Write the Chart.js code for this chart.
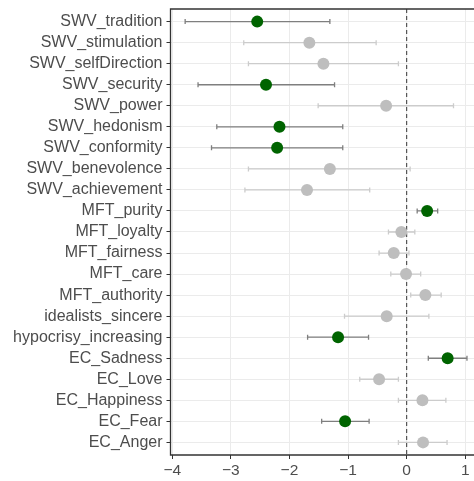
<!DOCTYPE html>
<html>
<head>
<meta charset="utf-8">
<script src="https://cdn.jsdelivr.net/npm/chart.js@4/dist/chart.umd.min.js"></script>
<style>
  html, body { margin: 0; padding: 0; background: #fff; }
</style>
</head>
<body>
<canvas id="chart" width="474" height="481"></canvas>
<script>
const labels = [
  "SWV_tradition", "SWV_stimulation", "SWV_selfDirection", "SWV_security",
  "SWV_power", "SWV_hedonism", "SWV_conformity", "SWV_benevolence",
  "SWV_achievement", "MFT_purity", "MFT_loyalty", "MFT_fairness", "MFT_care",
  "MFT_authority", "idealists_sincere", "hypocrisy_increasing", "EC_Sadness",
  "EC_Love", "EC_Happiness", "EC_Fear", "EC_Anger"
];
const estimates = [-2.55, -1.66, -1.42, -2.40, -0.35, -2.17, -2.21, -1.31, -1.70, 0.35,
  -0.09, -0.22, -0.01, 0.32, -0.34, -1.17, 0.70, -0.47, 0.27, -1.05, 0.28];
const lower = [-3.78, -2.78, -2.70, -3.56, -1.51, -3.24, -3.33, -2.70, -2.76, 0.18,
  -0.31, -0.47, -0.27, 0.07, -1.06, -1.69, 0.37, -0.80, -0.14, -1.45, -0.14];
const upper = [-1.31, -0.52, -0.14, -1.23, 0.80, -1.09, -1.09, 0.06, -0.63, 0.53,
  0.14, 0.04, 0.24, 0.59, 0.38, -0.65, 1.03, -0.14, 0.67, -0.64, 0.69];
const significant = [true, false, false, true, false, true, true, false, false, true,
  false, false, false, false, false, true, true, false, false, true, false];
const xTicks = [-4, -3, -2, -1, 0, 1];

const fontFamily = "'Liberation Sans', Arial, sans-serif";
const textColor = "#4d4d4d";

const points = estimates.map((v, i) => ({ x: v, y: i }));
const pointColors = significant.map(s => s ? "#006400" : "#bebebe");

// error bars + zero reference line, drawn under the points
const errorBars = {
  id: "errorBars",
  beforeDatasetsDraw(chart) {
    const { ctx, chartArea, scales: { x, y } } = chart;
    ctx.save();
    const zx = x.getPixelForValue(0);
    ctx.strokeStyle = "#555555";
    ctx.lineWidth = 1.2;
    ctx.setLineDash([4, 3]);
    ctx.beginPath();
    ctx.moveTo(zx, chartArea.top);
    ctx.lineTo(zx, chartArea.bottom);
    ctx.stroke();
    ctx.setLineDash([]);

    ctx.lineWidth = 1.3;
    labels.forEach((_, i) => {
      const yy = y.getPixelForValue(i);
      const x0 = x.getPixelForValue(lower[i]);
      const x1 = x.getPixelForValue(upper[i]);
      ctx.strokeStyle = significant[i] ? "#7f7f7f" : "#cccccc";
      ctx.beginPath();
      ctx.moveTo(x0, yy);
      ctx.lineTo(x1, yy);
      ctx.moveTo(x0, yy - 2.5);
      ctx.lineTo(x0, yy + 2.5);
      ctx.moveTo(x1, yy - 2.5);
      ctx.lineTo(x1, yy + 2.5);
      ctx.stroke();
    });
    ctx.restore();
  },
  afterDraw(chart) {
    // panel border (right side falls outside the picture)
    const { ctx, chartArea } = chart;
    ctx.save();
    ctx.strokeStyle = "#333333";
    ctx.lineWidth = 1.3;
    ctx.beginPath();
    ctx.moveTo(chartArea.right + 2, chartArea.top);
    ctx.lineTo(chartArea.left, chartArea.top);
    ctx.lineTo(chartArea.left, chartArea.bottom);
    ctx.lineTo(chartArea.right + 2, chartArea.bottom);
    ctx.stroke();
    ctx.restore();
  }
};

new Chart(document.getElementById("chart"), {
  type: "scatter",
  data: {
    datasets: [{
      data: points,
      backgroundColor: pointColors,
      borderWidth: 0,
      pointRadius: 6,
      pointHoverRadius: 6
    }]
  },
  options: {
    responsive: false,
    animation: false,
    layout: { autoPadding: false, padding: { top: 9, right: 0, left: 0, bottom: 0 } },
    plugins: {
      legend: { display: false },
      tooltip: { enabled: false }
    },
    scales: {
      x: {
        type: "linear",
        min: -4.03,
        max: 1.15,
        afterBuildTicks: s => { s.ticks = xTicks.map(v => ({ value: v })); },
        afterFit: s => { s.height = 26; s.paddingLeft = 0; s.paddingRight = 0; },
        grid: { color: "#ebebeb", lineWidth: 1, tickLength: 4, tickColor: "#333333" },
        border: { display: false },
        ticks: {
          color: textColor,
          padding: 2,
          maxRotation: 0,
          font: { family: fontFamily, size: 15.5 },
          callback: v => v < 0 ? "\u2212" + Math.abs(v) : String(v)
        }
      },
      y: {
        type: "linear",
        reverse: true,
        min: -0.6,
        max: 20.6,
        afterBuildTicks: s => { s.ticks = labels.map((_, i) => ({ value: i })); },
        afterFit: s => { s.width = 170.5; s.paddingTop = 0; s.paddingBottom = 0; },
        grid: { color: "#ebebeb", lineWidth: 1, tickLength: 4, tickColor: "#333333" },
        border: { display: false },
        ticks: {
          color: textColor,
          padding: 4,
          autoSkip: false,
          font: { family: fontFamily, size: 16 },
          callback: v => labels[v]
        }
      }
    }
  },
  plugins: [errorBars]
});
</script>
</body>
</html>
